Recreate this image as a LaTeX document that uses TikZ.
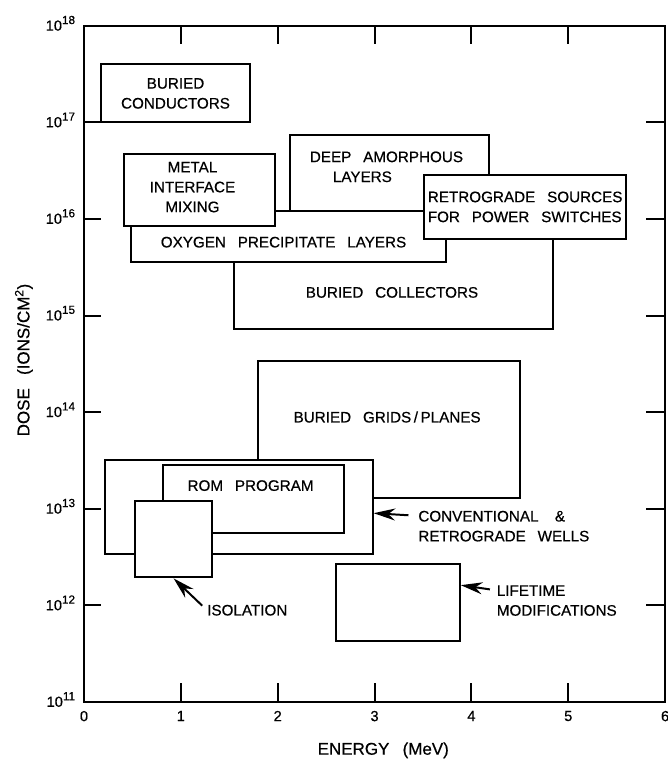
\documentclass[tikz,border=0pt]{standalone}
\usepackage{fontspec}
\setmainfont{Liberation Sans}[WordSpace=2.8,FakeBold=0.5]
\usepackage{tikz}
\usetikzlibrary{arrows.meta,fit}
\newcommand{\decade}[1]{10\raisebox{0.45em}{\fontsize{10}{12}\selectfont #1}}
\tikzset{
  blk/.style = {draw=black, fill=white, line width=1.7pt, inner sep=0pt},% implant window
  lbl/.style = {inner sep=0pt, align=center,
    font=\fontsize{13}{17}\selectfont},% text of boxes and arrows
  ttl/.style = {inner sep=0pt, font=\fontsize{14.5}{17}\selectfont},% axis titles
  ticklbl/.style = {inner sep=0pt, font=\fontsize{12.5}{14}\selectfont},% axis numbers
  axisline/.style = {line width=1.7pt, line cap=rect},
  pointer/.style = {->, line width=1.7pt}% arrow onto a box
}

\begin{document}
\begin{tikzpicture}[x=2.9055cm, y=2.898cm, >={Stealth[length=0.65cm,width=0.36cm]}]
\useasboundingbox (-2.52cm,-1.74cm) rectangle (17.52cm,21.06cm);
% boxes, back to front
\node[blk, fit={(0.18,6.0) (1.71,6.6)}] (cond) {};
\node[blk, fit={(1.55,3.86) (4.84,5.0)}] (coll) {};
\node[blk, fit={(0.49,4.55) (3.74,5.08)}] (oxy) {};
\node[blk, fit={(2.13,5.08) (4.18,5.87)}] (deep) {};
\node[blk, fit={(0.41,4.93) (1.97,5.67)}] (metal) {};
\node[blk, fit={(3.51,4.79) (5.60,5.46)}] (retro) {};
\node[blk, fit={(1.80,2.11) (4.50,3.53)}] (grid) {};
\node[blk, fit={(0.22,1.53) (2.98,2.51)}] (conv) {};
\node[blk, fit={(0.82,1.75) (2.68,2.45)}] (rom) {};
\node[blk, fit={(0.53,1.29) (1.32,2.08)}] (iso) {};
\node[blk, fit={(2.60,0.63) (3.88,1.43)}] (life) {};
% frame and ticks
\draw[axisline] (0,0) rectangle (6,7);
\foreach \e in {1,...,5} {
  \draw[axisline] (\e,0) -- ++(0,0.19);
  \draw[axisline] (\e,7) -- ++(0,-0.18);
}
\foreach \d in {1,...,6} {
  \draw[axisline] (0,\d) -- ++(0.17,0);
  \draw[axisline] (6,\d) -- ++(-0.19,0);
}
\foreach \e in {0,...,6}
  \node[ticklbl, anchor=north] (xl\e) at (\e,-0.09) {\e};
\foreach \d in {11,...,18}
  \node[ticklbl, anchor=base east] (yl\d) at (-0.09,{\d-11.05}) {\decade{\d}};
\node[ttl] (xtitle) at (3.09,-0.50) {ENERGY (MeV)};
\node[ttl, rotate=90] (ytitle) at (-0.62,3.54) {DOSE (IONS/CM\textsuperscript{2})};
% box texts
\node[lbl] (condlab) at (cond.center) {BURIED\\CONDUCTORS};
\node[lbl] (metallab) at (1.12,5.33) {METAL\\INTERFACE\\MIXING};
\node[lbl, anchor=west, align=left] (deeplab) at (2.33,5.54) {DEEP AMORPHOUS\\\hspace*{0.69cm}LAYERS};
\node[lbl, align=left] (retrolab) at (retro.center) {RETROGRADE SOURCES\\FOR POWER SWITCHES};
\node[lbl] (oxylab) at (2.06,4.76) {OXYGEN PRECIPITATE LAYERS};
\node[lbl] (colllab) at (3.18,4.24) {BURIED COLLECTORS};
\node[lbl] (gridlab) at (3.13,2.95) {BURIED GRIDS\,/\,PLANES};
\node[lbl] (romlab) at (1.72,2.24) {ROM PROGRAM};
\node[lbl, anchor=west] (isolab) at (1.27,0.95) {ISOLATION};
\node[lbl, anchor=west, align=left] (convlab) at (3.45,1.82) {CONVENTIONAL\hspace{0.3em} \&\\RETROGRADE WELLS};
\node[lbl, anchor=west, align=left] (lifelab) at (4.26,1.05) {LIFETIME\\MODIFICATIONS};
% arrows
\draw[pointer, shorten <=0.2cm] (isolab.west) -- (iso.south);
\draw[pointer] ([shift={(-0.29cm,-0.14cm)}]convlab.north west) -- ([yshift=-0.19cm]conv.east);
\draw[pointer] ([shift={(-0.2cm,-0.13cm)}]lifelab.north west) -- ([yshift=0.52cm]life.east);
\end{tikzpicture}
\end{document}
